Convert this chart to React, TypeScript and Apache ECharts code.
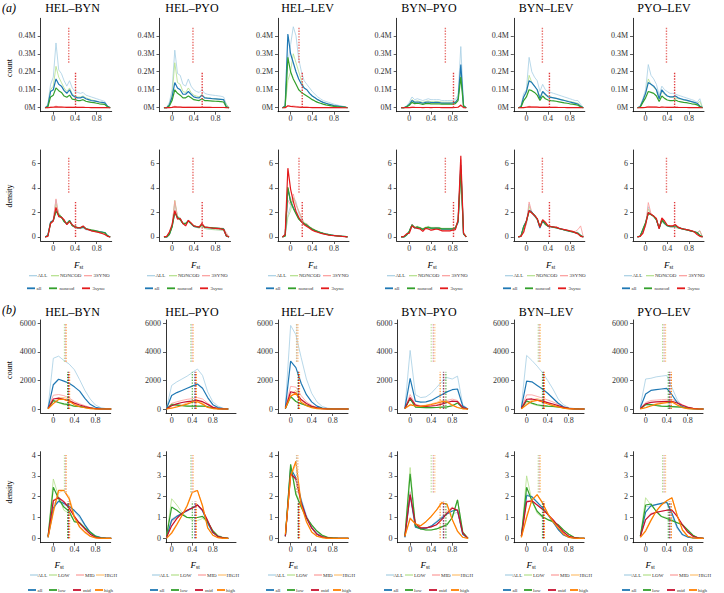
import React, { useEffect, useRef } from "react";
import * as echarts from "echarts";

const FONT = "'Liberation Serif','DejaVu Serif',serif";
const PAIRS = ["HEL–BYN", "HEL–PYO", "HEL–LEV", "BYN–PYO", "BYN–LEV", "PYO–LEV"];

// x grids
const A_X = [-0.15, -0.1, -0.05, 0, 0.05, 0.1, 0.15, 0.2, 0.25, 0.3, 0.35, 0.4, 0.45, 0.5, 0.55, 0.6, 0.65, 0.7, 0.75, 0.8, 0.85, 0.9, 0.95, 1.0, 1.05];
const B_X = [-0.1, 0, 0.1, 0.2, 0.3, 0.4, 0.5, 0.6, 0.7, 0.8, 0.9, 1.0, 1.1];
const A_BW = 0.05;
const B_BW = 0.1;

// tick labels
const X_TICKS = [0, 0.4, 0.8];
const A_COUNT_TICKS = [0, 0.1, 0.2, 0.3, 0.4];
const A_DENS_TICKS = [0, 2, 4, 6];
const B_COUNT_TICKS = [0, 2000, 4000, 6000];
const B_DENS_TICKS = [0, 1, 2, 3, 4];

// (a) counts, in millions of SNPs
const A_ALL = [
  [0, 0.02, 0.13, 0.17, 0.36, 0.21, 0.19, 0.15, 0.12, 0.15, 0.11, 0.09, 0.085, 0.08, 0.085, 0.07, 0.065, 0.06, 0.055, 0.05, 0.045, 0.04, 0.035, 0.01, 0],
  [0, 0, 0.03, 0.1, 0.32, 0.19, 0.18, 0.13, 0.12, 0.16, 0.12, 0.1, 0.09, 0.085, 0.1, 0.08, 0.075, 0.072, 0.07, 0.068, 0.066, 0.064, 0.06, 0.02, 0],
  [0, 0.01, 0.25, 0.35, 0.45, 0.4, 0.27, 0.2, 0.15, 0.13, 0.11, 0.09, 0.075, 0.06, 0.05, 0.04, 0.035, 0.03, 0.025, 0.02, 0.016, 0.012, 0.009, 0.006, 0],
  [0, 0, 0.01, 0.03, 0.06, 0.045, 0.05, 0.045, 0.04, 0.045, 0.05, 0.045, 0.045, 0.045, 0.045, 0.04, 0.04, 0.04, 0.04, 0.04, 0.045, 0.07, 0.34, 0.02, 0],
  [0, 0.01, 0.08, 0.1, 0.28, 0.2, 0.17, 0.15, 0.09, 0.13, 0.1, 0.09, 0.085, 0.08, 0.075, 0.07, 0.065, 0.06, 0.055, 0.05, 0.045, 0.04, 0.04, 0.02, 0],
  [0, 0.01, 0.05, 0.1, 0.24, 0.18, 0.16, 0.13, 0.07, 0.12, 0.1, 0.09, 0.08, 0.08, 0.075, 0.07, 0.065, 0.06, 0.055, 0.05, 0.045, 0.04, 0.03, 0.05, 0],
];
const A_NONCOD = [
  [0, 0.01, 0.1, 0.12, 0.23, 0.17, 0.14, 0.11, 0.09, 0.11, 0.075, 0.065, 0.06, 0.06, 0.065, 0.055, 0.05, 0.045, 0.04, 0.035, 0.03, 0.03, 0.025, 0.008, 0],
  [0, 0, 0.02, 0.07, 0.25, 0.14, 0.13, 0.09, 0.085, 0.11, 0.085, 0.07, 0.065, 0.06, 0.075, 0.058, 0.055, 0.053, 0.05, 0.049, 0.048, 0.047, 0.045, 0.02, 0],
  [0, 0.01, 0.15, 0.2, 0.3, 0.25, 0.2, 0.15, 0.11, 0.1, 0.08, 0.065, 0.055, 0.045, 0.037, 0.03, 0.025, 0.02, 0.016, 0.012, 0.009, 0.007, 0.005, 0.003, 0],
  [0, 0, 0.008, 0.022, 0.045, 0.035, 0.038, 0.034, 0.03, 0.035, 0.038, 0.034, 0.034, 0.034, 0.034, 0.031, 0.031, 0.031, 0.031, 0.031, 0.035, 0.05, 0.2, 0.015, 0],
  [0, 0.005, 0.06, 0.08, 0.18, 0.14, 0.12, 0.1, 0.06, 0.09, 0.07, 0.065, 0.06, 0.055, 0.052, 0.048, 0.045, 0.042, 0.038, 0.035, 0.032, 0.028, 0.025, 0.012, 0],
  [0, 0.005, 0.04, 0.08, 0.16, 0.13, 0.115, 0.095, 0.05, 0.09, 0.075, 0.065, 0.06, 0.058, 0.055, 0.05, 0.047, 0.043, 0.04, 0.036, 0.032, 0.028, 0.022, 0.035, 0],
];
const A_all = [
  [0, 0.01, 0.09, 0.1, 0.16, 0.13, 0.12, 0.095, 0.08, 0.1, 0.07, 0.06, 0.055, 0.055, 0.06, 0.05, 0.045, 0.04, 0.038, 0.035, 0.032, 0.03, 0.027, 0.008, 0],
  [0, 0, 0.015, 0.06, 0.14, 0.11, 0.1, 0.075, 0.075, 0.09, 0.075, 0.06, 0.056, 0.055, 0.07, 0.055, 0.053, 0.052, 0.05, 0.049, 0.048, 0.047, 0.045, 0.005, 0],
  [0, 0.01, 0.41, 0.3, 0.25, 0.2, 0.16, 0.13, 0.11, 0.1, 0.08, 0.065, 0.055, 0.045, 0.037, 0.03, 0.025, 0.02, 0.016, 0.012, 0.01, 0.008, 0.006, 0.004, 0],
  [0, 0, 0.006, 0.018, 0.04, 0.03, 0.032, 0.03, 0.025, 0.03, 0.032, 0.029, 0.029, 0.03, 0.029, 0.026, 0.026, 0.026, 0.026, 0.027, 0.03, 0.05, 0.24, 0.01, 0],
  [0, 0.005, 0.06, 0.09, 0.15, 0.14, 0.12, 0.1, 0.05, 0.09, 0.075, 0.06, 0.058, 0.055, 0.052, 0.048, 0.044, 0.04, 0.036, 0.032, 0.028, 0.024, 0.02, 0.008, 0],
  [0, 0.005, 0.04, 0.08, 0.14, 0.13, 0.12, 0.1, 0.05, 0.1, 0.08, 0.065, 0.06, 0.06, 0.065, 0.055, 0.05, 0.045, 0.042, 0.038, 0.034, 0.03, 0.025, 0.01, 0],
];
const A_noncod = [
  [0, 0.005, 0.06, 0.07, 0.11, 0.095, 0.085, 0.065, 0.058, 0.07, 0.048, 0.045, 0.04, 0.04, 0.045, 0.036, 0.033, 0.03, 0.028, 0.025, 0.022, 0.02, 0.018, 0.005, 0],
  [0, 0, 0.01, 0.04, 0.1, 0.08, 0.07, 0.055, 0.055, 0.065, 0.055, 0.045, 0.042, 0.04, 0.05, 0.04, 0.039, 0.038, 0.037, 0.036, 0.035, 0.034, 0.032, 0.004, 0],
  [0, 0.005, 0.28, 0.2, 0.16, 0.13, 0.1, 0.085, 0.075, 0.065, 0.055, 0.045, 0.037, 0.03, 0.025, 0.02, 0.016, 0.013, 0.01, 0.008, 0.006, 0.005, 0.004, 0.003, 0],
  [0, 0, 0.005, 0.014, 0.03, 0.023, 0.025, 0.022, 0.019, 0.023, 0.024, 0.022, 0.022, 0.022, 0.022, 0.02, 0.02, 0.02, 0.02, 0.02, 0.023, 0.04, 0.17, 0.008, 0],
  [0, 0.003, 0.04, 0.06, 0.1, 0.095, 0.085, 0.07, 0.04, 0.065, 0.05, 0.043, 0.04, 0.038, 0.036, 0.033, 0.03, 0.027, 0.025, 0.022, 0.02, 0.017, 0.014, 0.005, 0],
  [0, 0.003, 0.03, 0.055, 0.09, 0.085, 0.08, 0.065, 0.035, 0.065, 0.052, 0.043, 0.04, 0.04, 0.043, 0.036, 0.033, 0.03, 0.028, 0.025, 0.022, 0.02, 0.016, 0.006, 0],
];
// (a) densities of the 3-fold synonymous sets
const A_D_3SYNO = [
  [0, 0.05, 1.2, 1.4, 3.1, 1.75, 1.6, 1.3, 1.05, 1.3, 0.95, 0.8, 0.75, 0.7, 0.85, 0.65, 0.58, 0.5, 0.45, 0.4, 0.35, 0.3, 0.22, 0.05, 0],
  [0, 0.05, 0.35, 0.9, 2.95, 1.55, 1.45, 1.05, 0.95, 1.3, 1.1, 0.9, 0.85, 0.8, 1.0, 0.8, 0.78, 0.76, 0.75, 0.74, 0.73, 0.72, 0.7, 0.35, 0],
  [0, 0.2, 3.0, 2.6, 3.5, 2.6, 2.1, 1.6, 1.0, 1.1, 0.8, 0.7, 0.55, 0.45, 0.35, 0.3, 0.25, 0.2, 0.15, 0.12, 0.09, 0.07, 0.05, 0.03, 0],
  [0, 0.05, 0.25, 0.35, 1.05, 0.8, 0.7, 0.65, 0.45, 0.75, 0.65, 0.55, 0.6, 0.65, 0.6, 0.5, 0.5, 0.5, 0.5, 0.55, 0.6, 1.3, 6.3, 0.3, 0],
  [0, 0.05, 0.35, 1.1, 2.85, 2.0, 1.8, 1.5, 0.85, 1.35, 1.15, 0.9, 0.85, 0.8, 0.8, 0.7, 0.65, 0.6, 0.55, 0.5, 0.45, 0.45, 0.6, 0.9, 0],
  [0, 0.05, 0.3, 0.9, 2.8, 1.9, 1.7, 1.45, 0.7, 1.5, 1.25, 0.95, 0.9, 0.9, 0.95, 0.8, 0.7, 0.65, 0.6, 0.55, 0.5, 0.45, 0.35, 0.5, 0],
];
const A_D_3syno = [
  [0, 0.05, 1.1, 1.3, 2.4, 1.65, 1.6, 1.4, 1.0, 1.25, 1.0, 0.8, 0.75, 0.75, 0.9, 0.65, 0.6, 0.5, 0.45, 0.4, 0.35, 0.28, 0.2, 0.05, 0],
  [0, 0.05, 0.4, 1.0, 2.15, 1.45, 1.5, 1.1, 0.9, 1.35, 1.15, 0.9, 0.85, 0.8, 1.1, 0.8, 0.78, 0.75, 0.72, 0.7, 0.68, 0.65, 0.6, 0.1, 0],
  [0, 0.2, 5.6, 3.9, 2.9, 2.1, 1.6, 1.25, 1.0, 0.85, 0.7, 0.55, 0.45, 0.38, 0.3, 0.25, 0.2, 0.15, 0.12, 0.1, 0.08, 0.06, 0.04, 0.03, 0],
  [0, 0.05, 0.25, 0.3, 0.9, 0.75, 0.7, 0.65, 0.45, 0.7, 0.65, 0.55, 0.6, 0.65, 0.6, 0.5, 0.5, 0.5, 0.5, 0.55, 0.6, 1.4, 6.6, 0.3, 0],
  [0, 0.05, 0.4, 1.3, 2.15, 1.95, 1.75, 1.5, 0.8, 1.4, 1.2, 0.9, 0.85, 0.8, 0.8, 0.7, 0.65, 0.6, 0.55, 0.5, 0.45, 0.35, 0.25, 0.05, 0],
  [0, 0.05, 0.3, 1.0, 2.0, 1.85, 1.7, 1.5, 0.65, 1.55, 1.3, 0.95, 0.9, 0.9, 1.0, 0.8, 0.7, 0.65, 0.6, 0.55, 0.5, 0.4, 0.2, 0.05, 0],
];
const A_N_3SYNO = [0.06, 0.06, 0.06, 0.06, 0.06, 0.06];
const A_N_3syno = [0.04, 0.04, 0.04, 0.04, 0.04, 0.04];
// (a) mean Fst of the 3-fold synonymous sets (these overlay the others in the figure)
const A_MEAN_3SYNO = [0.285, 0.385, 0.155, 0.665, 0.295, 0.385];
const A_MEAN_3syno = [0.41, 0.555, 0.215, 0.815, 0.425, 0.535];
const A_COUNT_BAND_UP = [0.25, 0.45];
const A_COUNT_BAND_LO = [0, 0.2];
const A_DENS_BAND_UP = [3.6, 6.5];
const A_DENS_BAND_LO = [0, 2.9];

// (b) counts of ALL / all
const B_ALL = [
  [100, 3550, 3700, 3400, 3150, 2750, 2050, 1300, 700, 280, 100, 30, 0],
  [50, 1650, 1900, 2100, 2300, 2550, 2800, 2350, 1200, 500, 200, 50, 0],
  [200, 5850, 5200, 3600, 2100, 1100, 500, 180, 60, 20, 10, 5, 0],
  [100, 4100, 1000, 800, 850, 1100, 1500, 1900, 2200, 2100, 2300, 300, 0],
  [200, 3750, 3400, 3000, 2550, 2000, 1400, 700, 300, 100, 40, 10, 0],
  [200, 2100, 2150, 2250, 2300, 2350, 1500, 650, 200, 80, 30, 10, 0],
];
const B_all = [
  [50, 1700, 2080, 1950, 1800, 1550, 1250, 750, 330, 120, 40, 10, 0],
  [30, 950, 1150, 1300, 1450, 1600, 1750, 1450, 800, 300, 100, 30, 0],
  [100, 3350, 2900, 1800, 1000, 500, 200, 70, 25, 10, 5, 2, 0],
  [50, 2150, 550, 480, 500, 600, 800, 1000, 1200, 1350, 1400, 200, 0],
  [100, 1950, 1900, 1650, 1400, 1100, 750, 400, 150, 50, 20, 5, 0],
  [100, 1050, 1300, 1350, 1400, 1450, 1000, 450, 150, 50, 20, 5, 0],
];
// (b) densities of the subsets
const B_D_LOW = [
  [0.1, 2.85, 2.0, 1.35, 1.2, 0.8, 0.7, 0.45, 0.25, 0.1, 0.02, 0, 0],
  [0.1, 1.9, 1.6, 1.25, 1.0, 0.9, 0.85, 0.95, 0.8, 0.4, 0.15, 0.05, 0],
  [0.1, 3.5, 2.2, 1.6, 1.0, 0.6, 0.35, 0.15, 0.06, 0.02, 0, 0, 0],
  [0.1, 3.4, 0.6, 0.45, 0.4, 0.4, 0.45, 0.55, 0.7, 1.0, 1.85, 0.3, 0],
  [0.1, 3.0, 1.8, 1.2, 1.0, 0.9, 0.8, 0.6, 0.4, 0.2, 0.05, 0.01, 0],
  [0.1, 1.95, 1.6, 1.3, 1.05, 1.0, 0.9, 0.75, 0.65, 0.35, 0.15, 0.02, 0],
];
const B_D_MID = [
  [0.1, 1.85, 1.95, 1.8, 1.5, 1.0, 0.7, 0.45, 0.2, 0.05, 0.01, 0, 0],
  [0.05, 0.8, 1.0, 1.2, 1.35, 1.45, 1.6, 1.4, 0.8, 0.3, 0.1, 0.02, 0],
  [0.1, 3.05, 2.95, 1.8, 0.95, 0.5, 0.2, 0.08, 0.02, 0, 0, 0, 0],
  [0.1, 2.2, 0.7, 0.5, 0.5, 0.55, 0.65, 0.9, 1.3, 1.5, 1.3, 0.25, 0],
  [0.1, 1.8, 1.8, 1.6, 1.4, 1.15, 0.9, 0.6, 0.3, 0.1, 0.03, 0, 0],
  [0.1, 0.9, 1.2, 1.25, 1.3, 1.35, 1.35, 1.05, 0.6, 0.3, 0.1, 0.02, 0],
];
const B_D_HIGH = [
  [0.05, 1.2, 2.2, 2.3, 2.0, 1.1, 0.5, 0.25, 0.1, 0.03, 0, 0, 0],
  [0, 0.3, 0.7, 1.1, 1.6, 2.25, 2.3, 1.6, 0.5, 0.15, 0.03, 0, 0],
  [0.2, 2.9, 3.6, 1.8, 0.8, 0.3, 0.1, 0.03, 0, 0, 0, 0, 0],
  [0.1, 1.0, 0.7, 0.6, 0.8, 1.05, 1.35, 1.75, 1.6, 0.9, 0.3, 0.05, 0],
  [0.05, 1.1, 1.8, 2.1, 1.75, 1.2, 0.8, 0.5, 0.2, 0.05, 0.01, 0, 0],
  [0.05, 0.4, 0.9, 1.3, 1.65, 1.8, 1.95, 1.1, 0.4, 0.1, 0.02, 0, 0],
];
const B_D_low = [
  [0.1, 2.45, 1.9, 1.5, 1.3, 0.8, 0.75, 0.5, 0.3, 0.1, 0.02, 0, 0],
  [0.1, 1.5, 1.35, 1.15, 1.0, 1.0, 1.0, 1.05, 0.8, 0.35, 0.1, 0.03, 0],
  [0.1, 3.55, 2.1, 1.5, 1.0, 0.65, 0.35, 0.15, 0.05, 0.02, 0, 0, 0],
  [0.1, 3.1, 0.6, 0.45, 0.4, 0.4, 0.45, 0.55, 0.65, 1.0, 1.85, 0.3, 0],
  [0.1, 2.45, 1.8, 1.3, 1.05, 0.9, 0.8, 0.65, 0.4, 0.2, 0.05, 0.01, 0],
  [0.1, 1.6, 1.65, 1.3, 1.05, 0.95, 0.85, 0.75, 0.65, 0.4, 0.15, 0.02, 0],
];
const B_D_mid = [
  [0.1, 1.8, 1.95, 1.75, 1.45, 1.05, 0.72, 0.45, 0.2, 0.05, 0.01, 0, 0],
  [0.05, 0.6, 0.95, 1.2, 1.35, 1.45, 1.6, 1.35, 0.85, 0.3, 0.08, 0.02, 0],
  [0.1, 3.1, 2.85, 1.7, 1.0, 0.5, 0.2, 0.07, 0.02, 0, 0, 0, 0],
  [0.1, 2.1, 0.7, 0.5, 0.5, 0.55, 0.65, 0.9, 1.2, 1.45, 1.35, 0.25, 0],
  [0.1, 1.75, 1.8, 1.6, 1.4, 1.15, 0.9, 0.6, 0.3, 0.1, 0.03, 0, 0],
  [0.1, 0.9, 1.15, 1.25, 1.3, 1.35, 1.35, 1.05, 0.65, 0.3, 0.1, 0.02, 0],
];
const B_D_high = [
  [0.05, 1.3, 2.3, 2.3, 1.9, 1.0, 0.55, 0.3, 0.1, 0.02, 0, 0, 0],
  [0, 0.25, 0.65, 1.1, 1.55, 2.2, 2.3, 1.55, 0.5, 0.15, 0.03, 0, 0],
  [0.2, 3.0, 3.7, 1.6, 0.8, 0.3, 0.1, 0.03, 0, 0, 0, 0, 0],
  [0.1, 0.95, 0.7, 0.6, 0.8, 1.05, 1.35, 1.7, 1.65, 0.9, 0.35, 0.05, 0],
  [0.05, 1.0, 1.85, 2.1, 1.7, 1.2, 0.8, 0.5, 0.2, 0.05, 0.01, 0, 0],
  [0.05, 0.35, 0.85, 1.3, 1.6, 1.8, 1.95, 1.1, 0.4, 0.1, 0.02, 0, 0],
];
// (b) number of loci in each subset
const B_N_LOW = [2200, 2000, 2300, 2200, 2000, 1800];
const B_N_MID = [5200, 5000, 5200, 4600, 5500, 5000];
const B_N_HIGH = [3500, 2600, 3600, 3400, 3500, 2800];
const B_N_low = [2400, 2000, 2500, 2300, 2300, 1900];
const B_N_mid = [3900, 3800, 3900, 3800, 3900, 4000];
const B_N_high = [2900, 2200, 3000, 3000, 2900, 2500];
// (b) mean Fst: [ALL, LOW, MID, HIGH] and [all, low, mid, high]
const B_MEAN_UP = [[0.23, 0.21, 0.23, 0.25], [0.39, 0.37, 0.4, 0.42], [0.12, 0.11, 0.12, 0.14], [0.44, 0.4, 0.44, 0.47], [0.24, 0.22, 0.24, 0.26], [0.35, 0.32, 0.35, 0.38]];
const B_MEAN_LO = [[0.29, 0.27, 0.29, 0.31], [0.45, 0.4, 0.46, 0.48], [0.15, 0.14, 0.15, 0.17], [0.63, 0.68, 0.64, 0.57], [0.32, 0.3, 0.32, 0.34], [0.46, 0.43, 0.46, 0.49]];
const B_COUNT_BAND_UP = [3300, 6000];
const B_COUNT_BAND_LO = [0, 2600];
const B_DENS_BAND_UP = [2.2, 4.0];
const B_DENS_BAND_LO = [0, 1.76];

const COL = {
  ALL: "#A6CEE3", all: "#1F78B4",
  NONCOD: "#B2DF8A", noncod: "#33A02C",
  SYNO: "#FB9A99", syno: "#E31A1C",
  HIGH: "#FDBF6F", high: "#FF7F00",
  midB: "#C8102E",
};
const W_LIGHT = 0.8;
const W_DARK = 1.2;

// layout
const A_LEFT = [40.7, 159.5, 278, 396.7, 513.8, 633];
const A_W = 71;
const A_XMIN = -0.232, A_XMAX = 1.077;
const B_LEFT = [40.7, 166, 278, 397.5, 514, 633];
const B_W = 70;
const B_XMIN = [-0.24, -0.11, -0.24, -0.24, -0.24, -0.24];
const B_XMAX = [1.09, 1.25, 1.09, 1.09, 1.09, 1.09];
const TITLE_X = [72.5, 192, 307.5, 429, 546, 664];
const A_LEG_X = [29, 147, 268, 387, 505, 624];
const B_LEG_X = [30, 152, 268, 386, 505, 624];
const A_FST_X = [78.5, 195.5, 312.5, 432, 550.5, 668.5];
const B_FST_X = [59, 195, 293, 425, 531, 650];

const norm = (arr: number[], bw: number) => {
  const s = arr.reduce((a, b) => a + b, 0);
  return arr.map((v) => v / (s * bw));
};
const scale = (arr: number[], n: number, bw: number) => arr.map((v) => v * n * bw);

function buildOption() {
  const grid: any[] = [], xAxis: any[] = [], yAxis: any[] = [], series: any[] = [], graphic: any[] = [];

  const addPanel = (left: number, top: number, w: number, h: number, xmin: number, xmax: number, ymin: number, ymax: number, yticks: number[], yfmt: (v: number) => string) => {
    const i = grid.length;
    grid.push({ left, top, width: w, height: h, containLabel: false });
    xAxis.push({
      gridIndex: i, type: "value", min: xmin, max: xmax,
      axisLine: { show: true, onZero: false, lineStyle: { color: "#000", width: 0.8 } },
      axisTick: { show: true, length: 3, customValues: X_TICKS, lineStyle: { color: "#333", width: 0.8 } },
      axisLabel: { customValues: X_TICKS, fontSize: 8, fontFamily: FONT, color: "#333", margin: 3, formatter: (v: number) => String(v) },
      splitLine: { show: false },
    });
    yAxis.push({
      gridIndex: i, type: "value", min: ymin, max: ymax,
      axisLine: { show: true, onZero: false, lineStyle: { color: "#000", width: 0.8 } },
      axisTick: { show: true, length: 3, customValues: yticks, lineStyle: { color: "#333", width: 0.8 } },
      axisLabel: { customValues: yticks, fontSize: 8, fontFamily: FONT, color: "#333", margin: 5, formatter: yfmt },
      splitLine: { show: false },
    });
    return i;
  };

  const line = (gi: number, name: string, xs: number[], ys: number[], color: string, width: number) => {
    series.push({
      type: "line", name, xAxisIndex: gi, yAxisIndex: gi, silent: true,
      data: xs.map((x, k) => [x, ys[k]]), symbol: "none", showSymbol: false,
      lineStyle: { color, width }, itemStyle: { color },
    });
  };
  const vline = (gi: number, x: number, band: number[], color: string, width: number) => {
    series.push({
      type: "line", xAxisIndex: gi, yAxisIndex: gi, silent: true, z: 5,
      data: [[x, band[0]], [x, band[1]]], symbol: "none", showSymbol: false,
      lineStyle: { color, width, type: [1.4, 1.4] }, itemStyle: { color },
    });
  };
  const text = (t: string, x: number, y: number, size: number, opts: any = {}) => {
    graphic.push({
      type: "text", x, y, rotation: opts.rot || 0, silent: true,
      style: {
        text: t, fill: opts.fill || "#000",
        font: `${opts.italic ? "italic " : ""}${size}px ${FONT}`,
        textAlign: opts.align || "left", align: opts.align || "left",
        textVerticalAlign: "middle", verticalAlign: "middle",
      },
    });
  };
  const legendRow = (x0: number, y: number, items: any[]) => {
    items.forEach((it) => {
      graphic.push({ type: "line", silent: true, shape: { x1: x0 + it.lx, y1: y, x2: x0 + it.lx + 8, y2: y }, style: { stroke: it.color, lineWidth: it.w } });
      text(it.name, x0 + it.tx, y, 5, { fill: "#333" });
    });
  };
  const fst = (cx: number, y: number) => {
    text("F", cx - 4.5, y, 9, { italic: true });
    text("st", cx + 1, y + 2.5, 5.5);
  };

  const mFmt = (v: number) => `${v}M`;
  const nFmt = (v: number) => String(v);

  text("(a)", 2, 7.5, 12, { italic: true });
  text("(b)", 2, 310, 12, { italic: true });
  text("count", 9, 68, 8, { rot: Math.PI / 2, align: "center" });
  text("density", 9, 196, 8, { rot: Math.PI / 2, align: "center" });
  text("count", 9, 370, 8, { rot: Math.PI / 2, align: "center" });
  text("density", 9, 492, 8, { rot: Math.PI / 2, align: "center" });

  for (let c = 0; c < 6; c++) {
    // ---------- (a)
    const L = A_LEFT[c];
    text(PAIRS[c], TITLE_X[c], 7.5, 12, { align: "center" });
    text(PAIRS[c], TITLE_X[c], 311.5, 12, { align: "center" });
    const g0 = addPanel(L, 18.3, A_W, 93.4, A_XMIN, A_XMAX, -0.022, 0.497, A_COUNT_TICKS, mFmt);
    const g1 = addPanel(L, 150, A_W, 91, A_XMIN, A_XMAX, -0.33, 7.08, A_DENS_TICKS, nFmt);
    const c3S = scale(A_D_3SYNO[c], A_N_3SYNO[c], A_BW);
    const c3s = scale(A_D_3syno[c], A_N_3syno[c], A_BW);
    const aSeries = [
      { name: "ALL", cnt: A_ALL[c], den: norm(A_ALL[c], A_BW), color: COL.ALL, w: W_LIGHT },
      { name: "NONCOD", cnt: A_NONCOD[c], den: norm(A_NONCOD[c], A_BW), color: COL.NONCOD, w: W_LIGHT },
      { name: "3SYNO", cnt: c3S, den: A_D_3SYNO[c], color: COL.SYNO, w: W_LIGHT },
      { name: "all", cnt: A_all[c], den: norm(A_all[c], A_BW), color: COL.all, w: W_DARK },
      { name: "noncod", cnt: A_noncod[c], den: norm(A_noncod[c], A_BW), color: COL.noncod, w: W_DARK },
      { name: "3syno", cnt: c3s, den: A_D_3syno[c], color: COL.syno, w: W_DARK },
    ];
    aSeries.forEach((s) => {
      line(g0, s.name, A_X, s.cnt, s.color, s.w);
      line(g1, s.name, A_X, s.den, s.color, s.w);
    });
    vline(g0, A_MEAN_3SYNO[c], A_COUNT_BAND_UP, "#E8706C", 1.4);
    vline(g1, A_MEAN_3SYNO[c], A_DENS_BAND_UP, "#E8706C", 1.4);
    vline(g0, A_MEAN_3syno[c], A_COUNT_BAND_LO, "#E0393B", 1.4);
    vline(g1, A_MEAN_3syno[c], A_DENS_BAND_LO, "#E0393B", 1.4);
    fst(A_FST_X[c], 264.5);
    const ax = A_LEG_X[c];
    legendRow(ax, 275.7, [
      { name: "ALL", color: COL.ALL, w: 1.2, lx: 0, tx: 8.5 },
      { name: "NONCOD", color: COL.NONCOD, w: 1.2, lx: 22, tx: 31 },
      { name: "3SYNO", color: COL.SYNO, w: 1.2, lx: 55, tx: 64.5 },
    ]);
    legendRow(ax, 288.3, [
      { name: "all", color: COL.all, w: 1.8, lx: -2, tx: 7.5 },
      { name: "noncod", color: COL.noncod, w: 1.8, lx: 20, tx: 30.5 },
      { name: "3syno", color: COL.syno, w: 1.8, lx: 53, tx: 63.5 },
    ]);

    // ---------- (b)
    const BL = B_LEFT[c];
    const g2 = addPanel(BL, 320, B_W, 93, B_XMIN[c], B_XMAX[c], -280, 6231, B_COUNT_TICKS, nFmt);
    const g3 = addPanel(BL, 451.7, B_W, 91, B_XMIN[c], B_XMAX[c], -0.21, 4.16, B_DENS_TICKS, nFmt);
    const bSeries = [
      { name: "ALL", cnt: B_ALL[c], den: norm(B_ALL[c], B_BW), color: COL.ALL, w: W_LIGHT },
      { name: "LOW", cnt: scale(B_D_LOW[c], B_N_LOW[c], B_BW), den: B_D_LOW[c], color: COL.NONCOD, w: W_LIGHT },
      { name: "MID", cnt: scale(B_D_MID[c], B_N_MID[c], B_BW), den: B_D_MID[c], color: COL.SYNO, w: W_LIGHT },
      { name: "HIGH", cnt: scale(B_D_HIGH[c], B_N_HIGH[c], B_BW), den: B_D_HIGH[c], color: COL.HIGH, w: W_LIGHT },
      { name: "all", cnt: B_all[c], den: norm(B_all[c], B_BW), color: COL.all, w: W_DARK },
      { name: "low", cnt: scale(B_D_low[c], B_N_low[c], B_BW), den: B_D_low[c], color: COL.noncod, w: W_DARK },
      { name: "mid", cnt: scale(B_D_mid[c], B_N_mid[c], B_BW), den: B_D_mid[c], color: COL.midB, w: W_DARK },
      { name: "high", cnt: scale(B_D_high[c], B_N_high[c], B_BW), den: B_D_high[c], color: COL.high, w: W_DARK },
    ];
    bSeries.forEach((s) => {
      line(g2, s.name, B_X, s.cnt, s.color, s.w);
      line(g3, s.name, B_X, s.den, s.color, s.w);
    });
    [0, 1, 2, 3].forEach((k) => {
      vline(g2, B_MEAN_UP[c][k], B_COUNT_BAND_UP, bSeries[k].color, 1);
      vline(g3, B_MEAN_UP[c][k], B_DENS_BAND_UP, bSeries[k].color, 1);
      vline(g2, B_MEAN_LO[c][k], B_COUNT_BAND_LO, bSeries[k + 4].color, 1);
      vline(g3, B_MEAN_LO[c][k], B_DENS_BAND_LO, bSeries[k + 4].color, 1);
    });
    fst(B_FST_X[c], 564.5);
    const bx = B_LEG_X[c];
    legendRow(bx, 575, [
      { name: "ALL", color: COL.ALL, w: 1.2, lx: 0, tx: 7.5 },
      { name: "LOW", color: COL.NONCOD, w: 1.2, lx: 19, tx: 28 },
      { name: "MID", color: COL.SYNO, w: 1.2, lx: 46, tx: 55 },
      { name: "HIGH", color: COL.HIGH, w: 1.2, lx: 66, tx: 74.5 },
    ]);
    legendRow(bx, 590, [
      { name: "all", color: COL.all, w: 1.8, lx: -2, tx: 7.5 },
      { name: "low", color: COL.noncod, w: 1.8, lx: 19, tx: 28 },
      { name: "mid", color: COL.midB, w: 1.8, lx: 43, tx: 53 },
      { name: "high", color: COL.high, w: 1.8, lx: 65, tx: 74 },
    ]);
  }

  return {
    animation: false,
    backgroundColor: "#fff",
    grid, xAxis, yAxis, series, graphic,
  };
}

export default function App() {
  const ref = useRef<HTMLDivElement>(null);
  useEffect(() => {
    const chart = echarts.init(ref.current as HTMLDivElement, null, { renderer: "svg" });
    chart.setOption(buildOption() as any);
    return () => chart.dispose();
  }, []);
  return (
    <div
      ref={ref}
      style={{ position: "fixed", left: 0, top: 0, width: 724, height: 593, background: "#fff" }}
    />
  );
}
